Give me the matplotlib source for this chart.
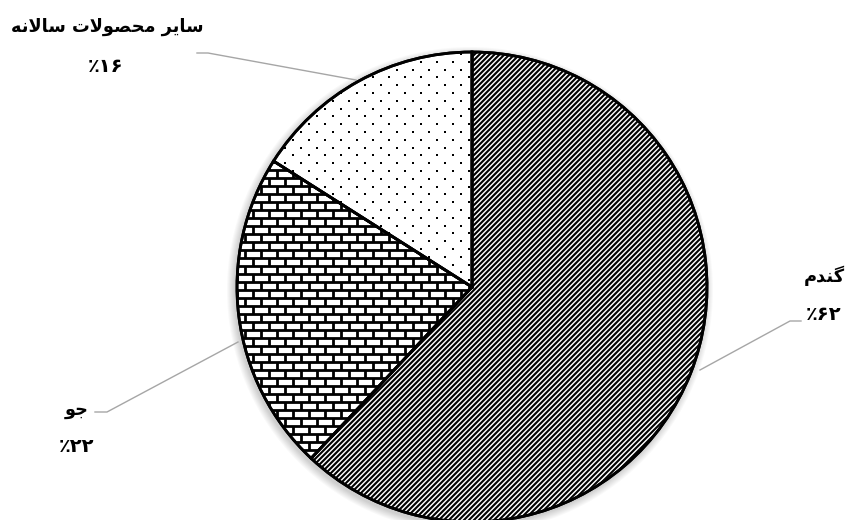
import numpy as np
import matplotlib
matplotlib.use('Agg')
import matplotlib.pyplot as plt
from matplotlib.collections import LineCollection
from matplotlib.patches import Circle, PathPatch

# data
labels = ['گندم', 'جو', 'سایر محصولات سالانه']
shares = [62, 22, 16]

W, H = 852, 520

# tiny arabic shaper for the letters used in the labels
# letter: (isolated, final, initial, medial)
forms = {
    'ا': ('\uFE8D', '\uFE8E', None, None),
    'ت': ('\uFE95', '\uFE96', '\uFE97', '\uFE98'),
    'ج': ('\uFE9D', '\uFE9E', '\uFE9F', '\uFEA0'),
    'ح': ('\uFEA1', '\uFEA2', '\uFEA3', '\uFEA4'),
    'د': ('\uFEA9', '\uFEAA', None, None),
    'ر': ('\uFEAD', '\uFEAE', None, None),
    'س': ('\uFEB1', '\uFEB2', '\uFEB3', '\uFEB4'),
    'ص': ('\uFEB9', '\uFEBA', '\uFEBB', '\uFEBC'),
    'ل': ('\uFEDD', '\uFEDE', '\uFEDF', '\uFEE0'),
    'م': ('\uFEE1', '\uFEE2', '\uFEE3', '\uFEE4'),
    'ن': ('\uFEE5', '\uFEE6', '\uFEE7', '\uFEE8'),
    'ه': ('\uFEE9', '\uFEEA', '\uFEEB', '\uFEEC'),
    'و': ('\uFEED', '\uFEEE', None, None),
    'ی': ('\uFBFC', '\uFBFD', '\uFBFE', '\uFBFF'),
    'گ': ('\uFB92', '\uFB93', '\uFB94', '\uFB95'),
}


def shape_word(w):
    # merge lam-alef first
    chars = []
    i = 0
    while i < len(w):
        if w[i] == 'ل' and i + 1 < len(w) and w[i + 1] == 'ا':
            chars.append('LA')
            i += 2
        else:
            chars.append(w[i])
            i += 1
    out = []
    for k, c in enumerate(chars):
        prev = chars[k - 1] if k > 0 else None
        nxt = chars[k + 1] if k + 1 < len(chars) else None
        join_prev = prev is not None and prev != 'LA' and forms[prev][2] is not None
        if c == 'LA':
            out.append('\uFEFC' if join_prev else '\uFEFB')
            continue
        join_next = nxt is not None and forms[c][2] is not None
        f = forms[c]
        if join_prev and join_next:
            out.append(f[3])
        elif join_prev:
            out.append(f[1])
        elif join_next:
            out.append(f[2])
        else:
            out.append(f[0])
    return ''.join(out[::-1])


def shape(s):
    return ' '.join(shape_word(w) for w in s.split(' ')[::-1])


def fa_pct(v):
    d = ''.join('۰۱۲۳۴۵۶۷۸۹'[int(c)] for c in str(v))
    return '٪' + d


plt.rcParams['font.family'] = ['DejaVu Sans']

fig = plt.figure(figsize=(W / 100, H / 100), dpi=100)
ax = fig.add_axes([0, 0, 1, 1])

cx, cy, R = 472, H - 287, 235

# soft shadow
for i in range(8):
    ax.add_patch(Circle((cx - 2, cy - 3), R + 1 + i, color='black',
                        alpha=0.025, lw=0, zorder=0))

wedges, _ = ax.pie(shares, startangle=90, counterclock=False,
                   center=(cx, cy), radius=R,
                   colors=['white'] * 3,
                   wedgeprops=dict(edgecolor='black', linewidth=2))
for w in wedges:
    w.set_zorder(2)

# wheat: dense diagonal stripes
sp = 5.0
segs = []
for x0 in np.arange(cx - 2 * R, cx + R, sp):
    segs.append([(x0, cy - R), (x0 + 2 * R, cy + R)])
stripes = LineCollection(segs, colors='black', linewidths=1.5, zorder=3)
ax.add_collection(stripes)
stripes.set_clip_path(wedges[0])

# barley: bricks
bh, bw = 8, 16
segs = []
for j, y in enumerate(np.arange(cy - R, cy + R + bh, bh)):
    segs.append([(cx - R, y), (cx + R, y)])
    off = 0 if j % 2 == 0 else bw / 2
    for x in np.arange(cx - R + off, cx + R, bw):
        segs.append([(x, y), (x, y + bh)])
lc = LineCollection(segs, colors='black', linewidths=2, zorder=3)
ax.add_collection(lc)
lc.set_clip_path(wedges[1])

# others: staggered dots
px, py = [], []
for j, y in enumerate(np.arange(cy - R, cy + R, 7.8)):
    off = 0 if j % 2 == 0 else 8
    for x in np.arange(cx - R + off, cx + R, 16):
        px.append(x)
        py.append(y)
dots = ax.scatter(px, py, s=2.2, color='black', marker='s', lw=0, zorder=3)
dots.set_clip_path(wedges[2])

# outlines on top again
for w in wedges:
    ax.add_patch(PathPatch(w.get_path(), fill=False, ec='black', lw=2,
                           zorder=4, transform=w.get_transform()))

# leader lines (pixel coords, y from top)
leaders = [
    [(700, 370), (790, 321), (801, 321)],
    [(238, 342), (107, 412), (95, 412)],
    [(356, 80), (208, 53), (197, 53)],
]
for pts in leaders:
    xs = [p[0] for p in pts]
    ys = [H - p[1] for p in pts]
    ax.plot(xs, ys, color='#a6a6a6', lw=1, zorder=1)

# label text positions (center, y from top)
name_pos = [(824, 276), (77, 410), (107, 27)]
pct_pos = [(824, 314), (77, 447), (106, 67)]
for lab, v, npos, ppos in zip(labels, shares, name_pos, pct_pos):
    ax.text(npos[0], H - npos[1], shape(lab), ha='center', va='center',
            fontsize=12.8, fontweight='bold', color='black')
    ax.text(ppos[0], H - ppos[1], fa_pct(v), ha='center', va='center',
            fontsize=14, fontweight='bold', color='black')

ax.set_xlim(0, W)
ax.set_ylim(0, H)
ax.set_aspect('equal')
ax.axis('off')

fig.savefig('out.png', dpi=100)
